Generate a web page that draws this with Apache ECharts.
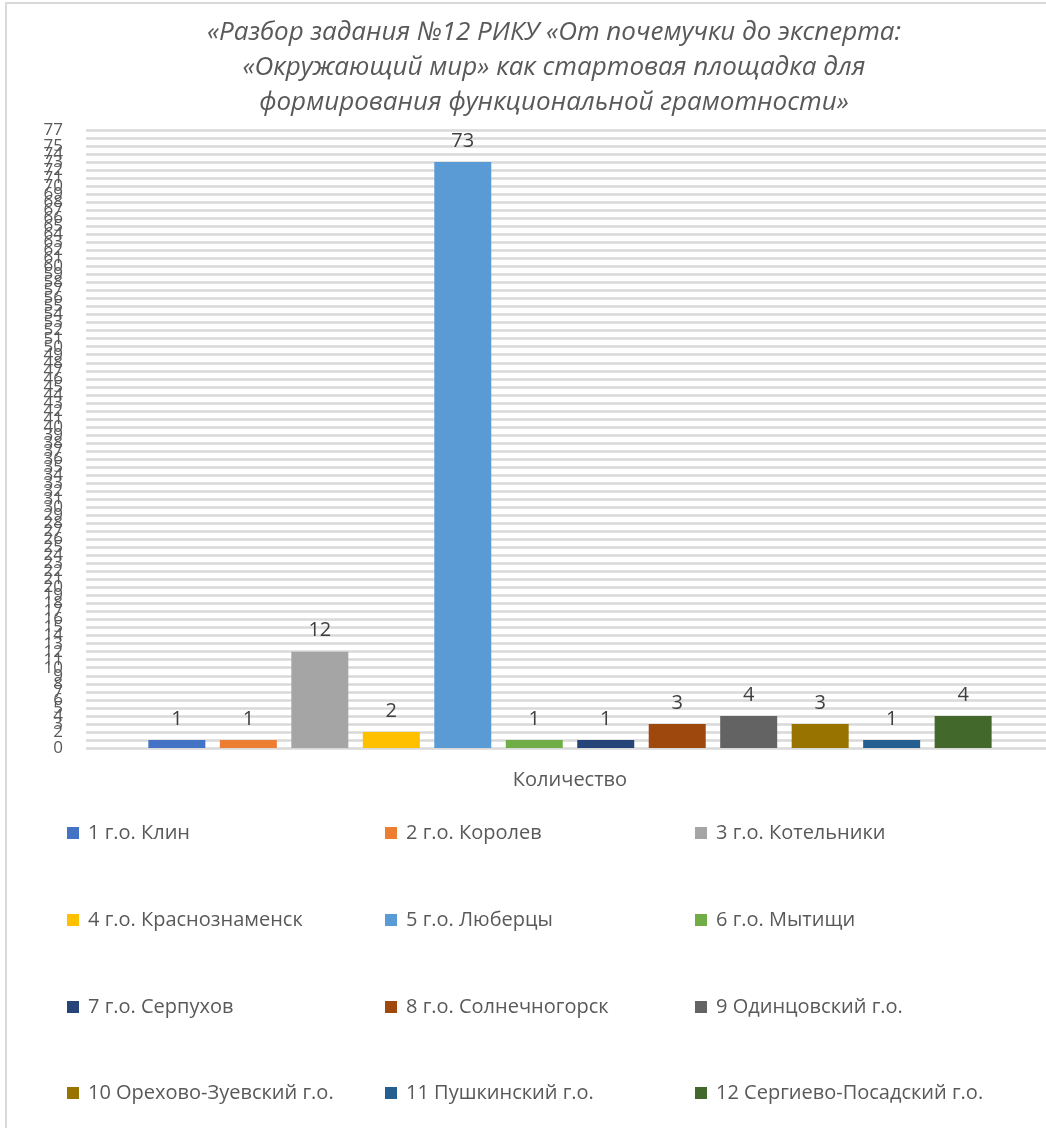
<!DOCTYPE html>
<html>
<head>
<meta charset="utf-8">
<style>html,body{margin:0;padding:0;background:#fff;}#c{width:1046px;height:1128px;}</style>
<script src="https://cdn.jsdelivr.net/npm/echarts@6/dist/echarts.min.js"></script>
</head>
<body>
<div id="c"></div>
<script>
const titleText = "«Разбор задания №12 РИКУ «От почемучки до эксперта:\n«Окружающий мир» как стартовая площадка для\nформирования функциональной грамотности»";
const categories = ["Количество"];
const seriesNames = ["1 г.о. Клин","2 г.о. Королев","3 г.о. Котельники","4 г.о. Краснознаменск","5 г.о. Люберцы","6 г.о. Мытищи","7 г.о. Серпухов","8 г.о. Солнечногорск","9 Одинцовский г.о.","10 Орехово-Зуевский г.о.","11 Пушкинский г.о.","12 Сергиево-Посадский г.о."];
const seriesValues = [1,1,12,2,73,1,1,3,4,3,1,4];
const colors = ["#4472C4","#ED7D31","#A5A5A5","#FFC000","#5B9BD5","#70AD47","#264478","#9E480E","#636363","#997300","#255E91","#43682B"];
const yMin = 0, yMax = 77, yInterval = 1;

const FONT = "'Open Sans', 'Noto Sans', sans-serif";
const legendCols = [62, 380, 690];
const legendRows = [818, 905, 992, 1078];

const legends = seriesNames.map((n, i) => ({
  data: [n],
  left: legendCols[i % 3],
  top: legendRows[Math.floor(i / 3)],
  itemWidth: 12, itemHeight: 12, itemGap: 0,
  icon: 'rect',
  selectedMode: false,
  textStyle: { fontFamily: FONT, fontSize: 20, color: '#595959', padding: [0, 0, 0, 4] }
}));

const series = seriesNames.map((n, i) => ({
  name: n,
  type: 'bar',
  data: [seriesValues[i]],
  barWidth: 57,
  barGap: '25.4%',
  itemStyle: { color: colors[i] },
  label: { show: true, position: 'top', distance: 11, fontFamily: FONT, fontSize: 20, color: '#404040' }
}));

const chart = echarts.init(document.getElementById('c'), null, { renderer: 'canvas' });
chart.setOption({
  animation: false,
  backgroundColor: '#fff',
  title: {
    text: titleText,
    left: 549,
    textAlign: 'center',
    top: 10,
    textStyle: { fontFamily: FONT, fontStyle: 'italic', fontWeight: 'normal', fontSize: 26, color: '#595959', lineHeight: 35 }
  },
  legend: legends,
  grid: { left: 86, width: 968, top: 130, bottom: 380, containLabel: false, outerBoundsMode: 'none' },
  xAxis: {
    type: 'category',
    data: categories,
    axisLine: { show: false },
    axisTick: { show: false },
    axisLabel: { show: false },
    name: categories[0],
    nameLocation: 'middle',
    nameGap: 22,
    nameTextStyle: { fontFamily: FONT, fontSize: 20, color: '#595959' }
  },
  yAxis: {
    type: 'value',
    min: yMin, max: yMax, interval: yInterval,
    axisLine: { show: false },
    axisTick: { show: false },
    axisLabel: { fontFamily: FONT, fontSize: 17, color: '#595959', margin: 23, hideOverlap: false, showMinLabel: true, showMaxLabel: true },
    splitLine: { lineStyle: { color: '#d9d9d9', width: 2.5 } }
  },
  series: series,
  graphic: [{
    type: 'rect',
    shape: { x: 6, y: 3, width: 1100, height: 1200 },
    style: { fill: 'none', stroke: '#d9d9d9', lineWidth: 2 },
    silent: true, z: 100
  }]
});
</script>
</body>
</html>
